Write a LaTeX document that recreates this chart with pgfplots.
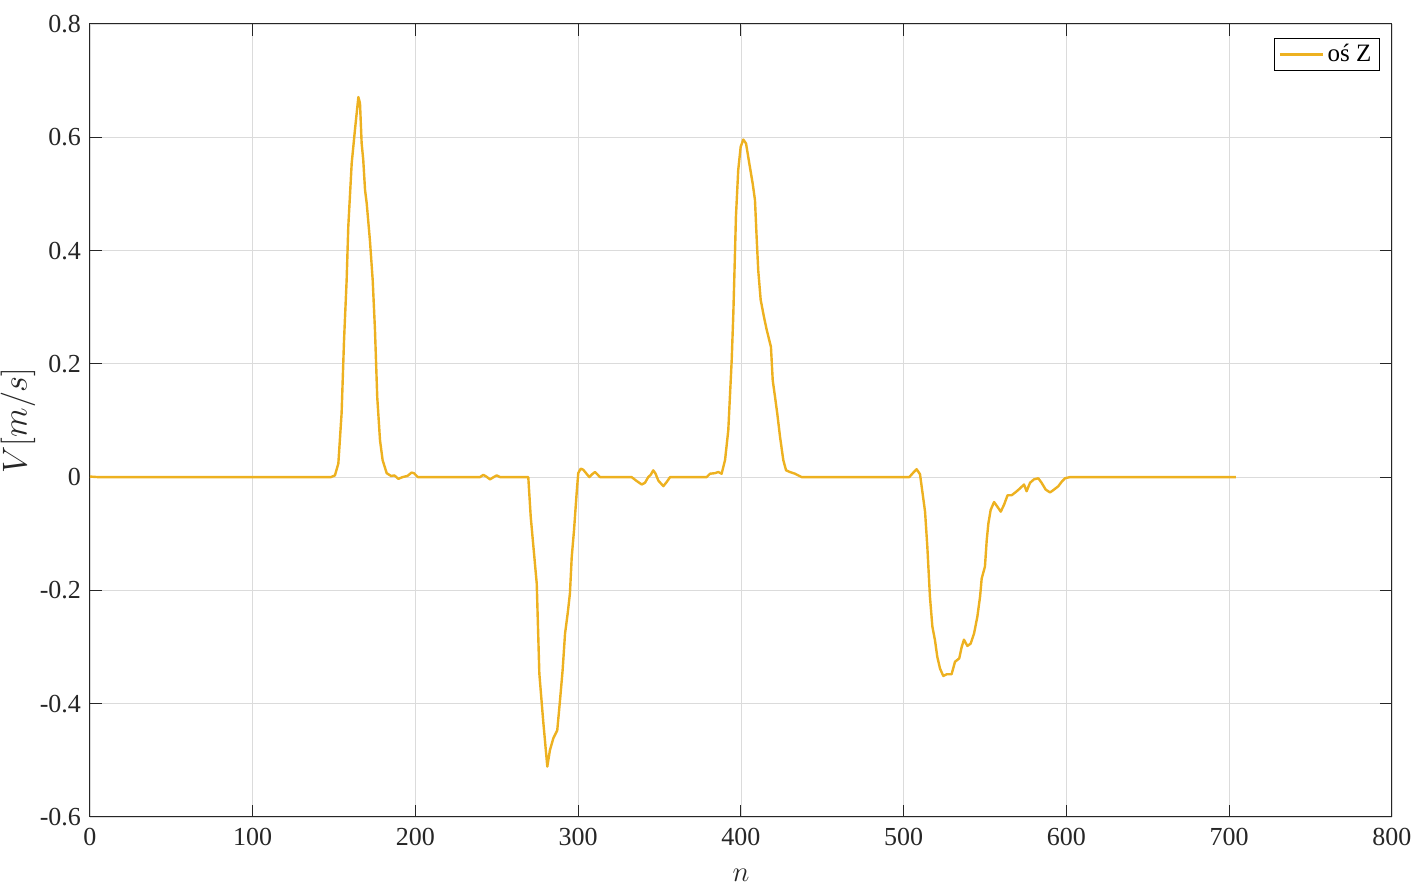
\documentclass[border=0pt]{standalone}
\usepackage{fontspec}
\setmainfont{Liberation Serif}
\usepackage{pgfplots}
\pgfplotsset{compat=1.18}
\definecolor{mlyellow}{rgb}{0.929,0.694,0.125}
\definecolor{axgray}{rgb}{0.15,0.15,0.15}
\begin{document}
\begin{tikzpicture}
\path (-45pt,-34.5pt) rectangle (668pt,408.5pt);
\begin{axis}[
  at={(0,0)}, anchor=south west,
  scale only axis, width=651pt, height=396.5pt,
  xmin=0, xmax=800, ymin=-0.6, ymax=0.8,
  xtick={0,100,...,800},
  ytick={-0.6,-0.4,-0.2,0,0.2,0.4,0.6,0.8},
  yticklabels={-0.6,-0.4,-0.2,0,0.2,0.4,0.6,0.8},
  xticklabels={0,100,200,300,400,500,600,700,800},
  tick align=inside, tick pos=both,
  major tick length=6pt,
  grid=major,
  grid style={color=black!14, line width=0.4pt},
  axis line style={color=axgray, line width=0.5pt},
  every tick/.style={color=axgray, line width=0.5pt},
  ticklabel style={font=\fontsize{13}{15}\selectfont, color=axgray},
  xticklabel style={yshift=-2pt},
  yticklabel style={xshift=-1pt},
  xlabel={$n$}, ylabel={$V[m/s]$},
  xlabel style={font=\fontsize{15}{17}\selectfont, color=axgray, at={(axis description cs:0.5,0)}, anchor=center, inner sep=0pt, yshift=-29pt},
  ylabel style={font=\fontsize{17}{19}\selectfont, color=axgray, at={(axis description cs:0,0.5)}, anchor=center, inner sep=0pt, xshift=0pt, yshift=36pt},
  legend style={at={(1,1)}, anchor=north east, xshift=-6pt, yshift=-7pt,
    draw=black, line width=0.5pt, font=\fontsize{12.5}{14}\selectfont,
    inner xsep=2pt, inner ysep=1pt, row sep=0pt},
  legend cell align=left,
  legend image code/.code={\draw[#1, line width=1.2pt] (0cm,0cm) -- (0.75cm,0cm);},
]
\addplot[color=mlyellow, line width=1.2pt, line join=round] coordinates {
(0,0.001) (5,0) (50,0) (100,0) (148,0) (150.5,0.003) (152.6,0.024) (154.6,0.113)
(156.1,0.242) (157.7,0.348) (158.7,0.442) (160.8,0.554) (162.8,0.613) (164.9,0.671)
(165.9,0.66) (166.9,0.59) (167.9,0.56) (169,0.507) (170,0.484) (172,0.418)
(173.7,0.348) (175.1,0.26) (176.5,0.141) (178.2,0.065) (179.8,0.03) (182.3,0.007)
(185,0.002) (187,0.003) (189.5,-0.003) (192,0) (195,0.002) (197.6,0.008) (199,0.007)
(201.5,0) (203.8,0) (239.6,0) (241.7,0.004) (243.5,0.001) (245.8,-0.004) (248,0)
(249.9,0.003) (252,0) (269.3,0) (270.8,-0.070) (274.5,-0.188) (276.1,-0.347)
(278.6,-0.435) (281.0,-0.511) (282.6,-0.482) (284.7,-0.461) (287.1,-0.447)
(288.8,-0.394) (290.4,-0.341) (291.9,-0.276) (293.5,-0.241) (294.9,-0.205)
(296.0,-0.141) (297.4,-0.094) (299.0,-0.029) (300.0,0.007) (301.5,0.015) (303.1,0.013)
(306.8,0) (308.5,0.005) (310.3,0.009) (313.4,0) (332.8,0) (336,-0.007) (339,-0.013)
(341,-0.010) (343,0) (344.5,0.004) (346.1,0.012) (347.5,0.006) (349.2,-0.006)
(352.3,-0.016) (354.5,-0.008) (356.4,0) (378.9,0) (381,0.006) (384,0.007) (386.1,0.009)
(388.1,0.006) (390.2,0.030) (392.2,0.083) (394.3,0.207) (395.3,0.289) (396.3,0.395)
(396.9,0.46) (398.3,0.542) (399.8,0.583) (401.4,0.596) (403.1,0.589) (405.1,0.554)
(407.2,0.518) (408.6,0.489) (409.6,0.424) (410.6,0.365) (412.1,0.313) (414.1,0.283)
(415.8,0.26) (418.4,0.230) (419.5,0.171) (420.9,0.142) (422.3,0.112) (424,0.071)
(426,0.030) (427.7,0.012) (430.1,0.009) (433.2,0.006) (437.3,0) (503.4,0)
(505.9,0.008) (507.9,0.014) (510,0.005) (511.6,-0.029) (513.1,-0.061) (514.5,-0.123)
(516.1,-0.211) (517.6,-0.264) (519.2,-0.288) (520.6,-0.317) (522.3,-0.338)
(524.3,-0.351) (526.4,-0.348) (529.4,-0.348) (531.5,-0.326) (534.1,-0.320)
(535.6,-0.300) (537,-0.287) (539.1,-0.298) (541.1,-0.294) (543.2,-0.276)
(545.2,-0.247) (546.9,-0.211) (547.9,-0.179) (549.9,-0.158) (551,-0.111)
(552,-0.082) (553.4,-0.058) (555.5,-0.044) (557.5,-0.052) (559.6,-0.061)
(561.6,-0.049) (563.8,-0.032) (566.3,-0.032) (569,-0.026) (571.4,-0.020)
(573.9,-0.013) (575.5,-0.025) (577.6,-0.010) (580,-0.004) (582.7,-0.002)
(584.7,-0.010) (587.2,-0.022) (589.9,-0.027) (591.9,-0.023) (595,-0.016)
(597.1,-0.008) (599.1,-0.002) (602.1,0) (650,0) (704.1,0)
};
\addlegendentry{oś Z}
\end{axis}
\end{tikzpicture}
\end{document}
